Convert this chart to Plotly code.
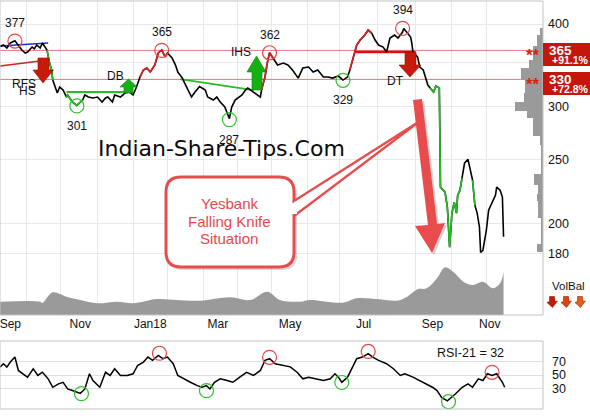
import numpy as np
import pandas as pd
import plotly.graph_objects as go

START = pd.Timestamp("2017-08-23")
SPAN_DAYS = 473.4

# ---------------- data ----------------
price_day = [0, 3, 6, 9, 13, 16, 19, 22, 24, 28,
             30, 32, 35, 37, 41, 43, 45, 46, 48, 50,
             52, 55, 58, 59, 63, 67, 72, 74, 77, 81,
             85, 89, 92, 94, 98, 100, 105, 109, 113, 116,
             119, 122, 125, 128, 131, 135, 138, 141, 144, 146,
             150, 153, 155, 159, 161, 164, 167, 170, 174, 179,
             181, 186, 189, 192, 196, 200, 202, 205, 208, 211,
             214, 216, 221, 224, 227, 228, 231, 233, 235, 238,
             242, 247, 251, 255, 260, 264, 269, 273, 277, 282,
             286, 290, 295, 299, 303, 305, 308, 311, 314, 318,
             321, 324, 327, 330, 334, 337, 340, 344, 347, 351,
             352, 355, 358, 359, 360, 364, 366, 369, 371, 373,
             375, 378, 380, 382, 383, 384, 386, 388, 390, 392,
             394, 396, 398, 399, 401, 403, 405, 408, 412, 414,
             416, 418, 419, 421, 424, 426, 429, 432, 433, 436,
             438, 439]
price_close = [370, 372, 368, 374.5, 377.5, 372, 365.5, 361.7, 363, 369.3,
               367, 372, 368, 374.5, 365.5, 350.6, 341, 329.2, 321.4, 314.7,
               321.4, 318, 310.4, 312.6, 305.1, 301.5, 307.2, 312.6, 310.4, 309.4,
               310.4, 305.1, 309.4, 310.4, 305.1, 312.6, 310.4, 314.7, 315.8, 312.6,
               321.4, 332.7, 341, 343.3, 338.6, 346.9, 361.7, 365.5, 356.8, 361.7,
               355.5, 346.9, 338.6, 331.5, 325.8, 318, 310.4, 315.8, 322, 318,
               310.4, 307.2, 310.4, 305.1, 299.8, 288, 299.8, 307.2, 310.4, 312.6,
               318, 320.3, 315.8, 312.6, 310.4, 318, 332.7, 349.3, 362, 355.5,
               346.9, 349.3, 346.9, 341, 331.5, 343.3, 344.5, 338.6, 341, 332.7,
               332.7, 331.5, 333.9, 329.2, 332.7, 341, 356.8, 371.9, 378.4, 385,
               391.7, 387.7, 378.4, 371.9, 369.3, 363, 381, 385, 381, 389,
               394, 387.7, 382.3, 374.5, 363, 356.8, 344.5, 341, 332.7, 323.6,
               320.3, 315.8, 322.5, 321.4, 320.3, 227, 224.6, 223.1, 211.8, 184.2,
               207.4, 215.4, 207.4, 220.8, 224.6, 234.3, 246.8, 250, 232.6, 213.2,
               207.4, 197.5, 181, 182.2, 195.4, 209.5, 214.7, 220.8, 227, 224.6,
               219.3, 191]

vol_day = [0, 35, 37, 46, 58, 70, 85, 102, 116, 137, 154, 174, 201, 218, 233, 244, 262,
           270, 299, 311, 331, 346, 355, 364, 372, 381, 388, 395, 404, 412, 421, 430, 436, 439]
vol_bal = [13.3, 13.3, 12, 22.7, 18.3, 15, 11.7, 13.3, 11.7, 16, 15, 14.3, 17.7, 15, 23.3, 15, 13.3,
           15, 12.3, 16.7, 15.7, 14.3, 18.3, 25.7, 26.7, 36.7, 47.7, 43.3, 33.3, 30, 33.3, 26.7, 31.7, 43.3]

rsi_day = [0, 3, 6, 9, 13, 16, 20, 24, 29, 33, 37, 42, 46, 51, 55, 59, 65, 70, 74, 78,
           81, 87, 92, 96, 100, 105, 111, 116, 120, 125, 129, 133, 138, 142, 146, 151, 155, 160, 166, 172,
           176, 180, 183, 187, 192, 198, 203, 209, 215, 221, 227, 231, 235, 240, 246, 253, 259, 264, 269, 275,
           282, 288, 292, 295, 298, 303, 307, 311, 316, 321, 325, 330, 337, 343, 349, 353, 360, 366, 371, 377,
           381, 385, 390, 392, 397, 403, 408, 412, 417, 421, 425, 429, 433, 438, 440]
rsi_val = [61.6, 66.6, 61.6, 69, 76.4, 56.7, 51.8, 46.8, 59.2, 49.3, 54.1, 44.4, 31.9, 37, 39.3, 29.5, 26, 23, 29.5, 51.8,
           41.9, 32, 54, 49.3, 59.2, 49.3, 49.3, 51.8, 64, 69, 76.4, 71.5, 78.9, 74, 76.4, 66.6, 49.3, 44.4, 39.3, 34.4,
           32, 34.4, 29.5, 39.3, 44.4, 41.9, 39.3, 46.8, 54, 49.3, 56.7, 71.5, 74, 66.6, 64, 62, 54, 44.4, 46.8, 44.4,
           41.9, 44.4, 51.8, 46.8, 39.3, 46.8, 61.6, 74, 76.4, 81.4, 76.4, 71.5, 66.6, 59.2, 49.3, 51.8, 46.8, 41.9, 37, 32,
           27, 17, 12, 14.7, 22, 32, 37, 32, 44.4, 41.9, 51.8, 49.3, 51.8, 39.3, 32]

vbp_lo = [385, 370, 353, 343, 329, 315, 305, 296, 289, 280, 271, 263, 238, 229, 222, 216, 204, 186, 181]
vbp_hi = [395, 385, 370, 353, 343, 329, 315, 305, 296, 289, 280, 271, 263, 238, 229, 222, 216, 204, 186]
vbp_vol = [26, 60, 103, 143, 216, 183, 190, 283, 163, 103, 103, 33, 16, 93, 53, 63, 53, 23, 63]

peak_day = [13, 141, 235, 351]
peak_val = [377, 365, 362, 394]
low_day = [67, 200, 299]
low_val = [301, 287, 329]
rsi_hi_day = [139, 235, 321, 429]
rsi_hi_val = [82, 76, 84.6, 54]
rsi_lo_day = [71, 180, 298, 391]
rsi_lo_val = [22.6, 27, 39, 10.7]

level_val = [365, 330]
level_pct = ["+91.1%", "+72.8%"]

tick_dates = ["2017-09-01", "2017-11-01", "2018-01-01", "2018-03-01",
              "2018-05-03", "2018-07-06", "2018-09-04", "2018-10-24"]
tick_text = ["Sep", "Nov", "Jan18", "Mar", "May", "Jul", "Sep", "Nov"]
grid_day = [23, 53, 85, 116, 146, 177, 207, 237, 268, 296, 329, 362, 394, 424]
price_ticks = [180, 200, 250, 300, 350, 400]
price_tick_text = ["180", "200", "250", "300", "", "400"]
rsi_ticks = [30, 50, 70]
rsi_now = 32

blue_day, blue_val = [0, 42], [370.6, 374.5]
rfs_day, rfs_val = [0, 42], [345.7, 353]
db_day, db_val = [58, 116], [315.8, 315.8]
ihs_day, ihs_val = [157, 221], [330.4, 318]
dt_day, dt_val = [310, 362], [363, 363]

# colour segments of the price line (index ranges)
segments = [(14, 17, "#22c022"), (22, 26, "#22c022"), (41, 49, "#e02020"), (75, 79, "#e02020"),
            (95, 101, "#e02020"), (120, 135, "#22c022"), (138, 139, "#22c022")]

# ---------------- helpers ----------------
def dates(days):
    return [START + pd.Timedelta(days=float(d)) for d in days]

X_RANGE = [START, START + pd.Timedelta(days=SPAN_DAYS)]
Y_LO, Y_HI = 145.6, 433.3
Y_RANGE = [np.log10(Y_LO), np.log10(Y_HI)]

def PX(x):
    return x / 543.0

def PY(y):
    return (409.0 - y) / 408.0

def poly(pts):
    return "M " + " L ".join(f"{PX(x):.5f},{PY(y):.5f}" for x, y in pts) + " Z"

def rrect(x0, y0, x1, y1, r):
    def p(x, y):
        return f"{PX(x):.5f},{PY(y):.5f}"
    return (f"M {p(x0 + r, y0)} L {p(x1 - r, y0)} Q {p(x1, y0)} {p(x1, y0 + r)} "
            f"L {p(x1, y1 - r)} Q {p(x1, y1)} {p(x1 - r, y1)} L {p(x0 + r, y1)} "
            f"Q {p(x0, y1)} {p(x0, y1 - r)} L {p(x0, y0 + r)} Q {p(x0, y0)} {p(x0 + r, y0)} Z")

FONT = "Liberation Sans, Arial, sans-serif"
BLACK = "#111111"
RED_LINE = "#e07a7a"
GREEN = "#22c022"
RED = "#e02020"

fig = go.Figure()

# volume balance area
fig.add_trace(go.Scatter(x=dates(vol_day), y=vol_bal, xaxis="x", yaxis="y2", mode="lines",
                         line=dict(color="#9a9a9a", width=0, shape="spline", smoothing=1.0),
                         fill="tozeroy", fillcolor="#9a9a9a", hoverinfo="skip"))

# volume by price
vbp_c = [(np.log10(a) + np.log10(b)) / 2 for a, b in zip(vbp_lo, vbp_hi)]
vbp_w = [np.log10(b) - np.log10(a) for a, b in zip(vbp_lo, vbp_hi)]
fig.add_trace(go.Bar(x=vbp_vol, y=vbp_c, width=vbp_w, orientation="h", xaxis="x3", yaxis="y3",
                     marker=dict(color="#9a9a9a", line=dict(width=0)), hoverinfo="skip"))

# horizontal levels
for lv in level_val:
    fig.add_trace(go.Scatter(x=X_RANGE, y=[lv, lv], xaxis="x", yaxis="y", mode="lines",
                             line=dict(color=RED_LINE, width=1), hoverinfo="skip"))

# pattern lines
for dd, vv, col, w in [(blue_day, blue_val, "#2030c8", 1.6), (rfs_day, rfs_val, "#d82020", 1.4),
                       (db_day, db_val, GREEN, 2), (ihs_day, ihs_val, GREEN, 1.8),
                       (dt_day, dt_val, "#d81010", 2.6)]:
    fig.add_trace(go.Scatter(x=dates(dd), y=vv, xaxis="x", yaxis="y", mode="lines",
                             line=dict(color=col, width=w), hoverinfo="skip"))

# price line
pd_dates = dates(price_day)
fig.add_trace(go.Scatter(x=pd_dates, y=price_close, xaxis="x", yaxis="y", mode="lines",
                         line=dict(color="#000000", width=1.6), hoverinfo="skip"))
for i0, i1, col in segments:
    fig.add_trace(go.Scatter(x=pd_dates[i0:i1 + 1], y=price_close[i0:i1 + 1], xaxis="x", yaxis="y",
                             mode="lines", line=dict(color=col, width=1.6), hoverinfo="skip"))

# peak / trough circles
fig.add_trace(go.Scatter(x=dates(peak_day), y=peak_val, xaxis="x", yaxis="y", mode="markers",
                         marker=dict(symbol="circle-open", size=14, color="#e04848", line=dict(width=1.2)),
                         hoverinfo="skip"))
fig.add_trace(go.Scatter(x=dates(low_day), y=low_val, xaxis="x", yaxis="y", mode="markers",
                         marker=dict(symbol="circle-open", size=14, color="#33c033", line=dict(width=1.2)),
                         hoverinfo="skip"))

# RSI
fig.add_trace(go.Scatter(x=dates(rsi_day), y=rsi_val, xaxis="x2", yaxis="y4", mode="lines",
                         line=dict(color="#000000", width=1.5), hoverinfo="skip"))
fig.add_trace(go.Scatter(x=dates(rsi_hi_day), y=rsi_hi_val, xaxis="x2", yaxis="y4", mode="markers",
                         marker=dict(symbol="circle-open", size=14, color="#e04848", line=dict(width=1.2)),
                         hoverinfo="skip"))
fig.add_trace(go.Scatter(x=dates(rsi_lo_day), y=rsi_lo_val, xaxis="x2", yaxis="y4", mode="markers",
                         marker=dict(symbol="circle-open", size=14, color="#33c033", line=dict(width=1.2)),
                         hoverinfo="skip"))

# ---------------- shapes ----------------
shapes = []
BORDER = "#c4c4c4"
shapes.append(dict(type="rect", xref="paper", yref="paper", x0=PX(0), x1=PX(543), y0=PY(315), y1=PY(1),
                   line=dict(color=BORDER, width=1)))
shapes.append(dict(type="rect", xref="paper", yref="paper", x0=PX(0), x1=PX(543), y0=PY(409), y1=PY(341),
                   line=dict(color=BORDER, width=1)))

ARROW_RED = "#c81a0a"
ARROW_GREEN = "#14b014"
shapes.append(dict(type="path", xref="paper", yref="paper", fillcolor=ARROW_RED, line=dict(color="#8a1000", width=0.6),
                   path=poly([(38, 58), (49, 58), (49, 70), (53.5, 70), (43, 83), (33, 70), (38, 70)])))
shapes.append(dict(type="path", xref="paper", yref="paper", fillcolor=ARROW_RED, line=dict(color="#8a1000", width=0.6),
                   path=poly([(405, 52), (416, 52), (416, 65), (421, 65), (410, 77), (399, 65), (405, 65)])))
shapes.append(dict(type="path", xref="paper", yref="paper", fillcolor=ARROW_GREEN, line=dict(color="#0a800a", width=0.6),
                   path=poly([(124, 93), (124, 87), (120, 87), (128.5, 79), (137, 87), (133, 87), (133, 93)])))
shapes.append(dict(type="path", xref="paper", yref="paper", fillcolor=ARROW_GREEN, line=dict(color="#0a800a", width=0.6),
                   path=poly([(252, 90), (252, 72), (247, 72), (256.5, 56), (266, 72), (262, 72), (262, 90)])))

# callout
CALL = "#e84c4c"
big_arrow = [(413, 100), (422, 99), (437, 224), (445, 223), (432, 253), (415, 226), (428, 225)]
shapes.append(dict(type="path", xref="paper", yref="paper", fillcolor="rgba(0,0,0,0.18)", line=dict(width=0),
                   path=poly([(x + 2, y + 2) for x, y in big_arrow])))
shapes.append(dict(type="path", xref="paper", yref="paper", fillcolor=CALL, line=dict(width=0),
                   path=poly(big_arrow)))
shapes.append(dict(type="path", xref="paper", yref="paper", fillcolor="rgba(0,0,0,0.15)", line=dict(width=0),
                   path=rrect(168, 180, 297, 270, 15)))
shapes.append(dict(type="path", xref="paper", yref="paper", fillcolor="white", line=dict(color=CALL, width=3),
                   path=rrect(166, 177, 294, 267, 15)))
shapes.append(dict(type="path", xref="paper", yref="paper", fillcolor="white", line=dict(color=CALL, width=2.2),
                   path=f"M {PX(294):.5f},{PY(201):.5f} L {PX(420):.5f},{PY(121):.5f} L {PX(294):.5f},{PY(216):.5f}"))
shapes.append(dict(type="rect", xref="paper", yref="paper", x0=PX(291.5), x1=PX(297), y0=PY(214), y1=PY(203),
                   fillcolor="white", line=dict(width=0)))

# right-hand level boxes
for lv, (y0, y1) in zip(level_val, [(43, 66), (72, 95)]):
    shapes.append(dict(type="rect", xref="paper", yref="paper", x0=PX(543), x1=PX(591), y0=PY(y1), y1=PY(y0),
                       fillcolor="#c4160a", line=dict(width=0)))

# VolBal icons
for cx, col in [(552, "#c41a00"), (566, "#e0420e"), (580, "#e0601a")]:
    cy = 302
    pts = [(cx - 2.5, cy - 5.5), (cx + 2.5, cy - 5.5), (cx + 3, cy - 0.5), (cx + 5.5, cy - 1), (cx + 0.5, cy + 5.5),
           (cx - 5, cy + 0.5), (cx - 2.5, cy - 0.5)]
    shapes.append(dict(type="path", xref="paper", yref="paper", fillcolor=col, line=dict(color="#7a1000", width=0.5),
                       path=poly(pts)))

# ---------------- annotations ----------------
anns = []

def ann(text, x, y, size=12, color=BLACK, family=FONT, xanchor="center", **kw):
    anns.append(dict(text=text, x=PX(x), y=PY(y), xref="paper", yref="paper", showarrow=False,
                     xanchor=xanchor, yanchor="middle", font=dict(size=size, color=color, family=family), **kw))

for dd, vv in zip(peak_day, peak_val):
    anns.append(dict(text=str(vv), x=START + pd.Timedelta(days=dd), y=np.log10(vv), xref="x", yref="y",
                     showarrow=False, yshift=18, font=dict(size=12, color=BLACK, family=FONT)))
for dd, vv in zip(low_day, low_val):
    anns.append(dict(text=str(vv), x=START + pd.Timedelta(days=dd), y=np.log10(vv), xref="x", yref="y",
                     showarrow=False, yshift=-20, font=dict(size=12, color=BLACK, family=FONT)))

ann("RFS", 24, 84)
ann("HS", 27.5, 91)
ann("DB", 115.5, 76)
ann("IHS", 241, 52)
ann("DT", 395.5, 81)
ann("Indian-Share-Tips.Com", 221.5, 148.5, size=22, family="DejaVu Sans, Verdana, sans-serif", color="#0a0a0a")
ann("Yesbank", 229, 203, size=15, color="#e8474a")
ann("Falling Knife", 229, 221, size=15, color="#e8474a")
ann("Situation", 229, 239, size=15, color="#e8474a")
ann(f"RSI-21 = {rsi_now}", 470.5, 353, size=12.5)
for lv, pct, yc in zip(level_val, level_pct, [50.5, 79.5]):
    ann(f"<b>{lv}</b>", 547, yc, size=13.5, color="white", xanchor="left")
    ann(f"<b>{pct}</b>", 550, yc + 9, size=10.5, color="white", xanchor="left")
    ann("<b>**</b>", 542, yc + 5, size=17, color="#dd2211", xanchor="right")
ann("VolBal", 550, 286, size=11.5, xanchor="left")

fig.update_layout(
    width=590, height=416,
    margin=dict(l=0, r=47, t=1, b=7),
    paper_bgcolor="white", plot_bgcolor="white", showlegend=False,
    font=dict(family=FONT, size=12, color=BLACK),
    bargap=0,
    xaxis=dict(domain=[0, 1], anchor="y", type="date", range=X_RANGE, tickmode="array",
               tickvals=tick_dates, ticktext=tick_text, showgrid=False, ticks="", zeroline=False,
               showline=False, tickfont=dict(size=12, color=BLACK), ticklabeloverflow="allow",
               minor=dict(tickmode="array", tickvals=dates(grid_day), showgrid=True,
                          gridcolor="#e8e8e8", gridwidth=1, ticks="")),
    yaxis=dict(domain=[94 / 408, 1], anchor="x", type="log", range=Y_RANGE, side="right",
               tickmode="array", tickvals=price_ticks, ticktext=price_tick_text,
               showgrid=True, gridcolor="#e8e8e8", ticks="", zeroline=False, showline=False,
               automargin=False, ticklabelstandoff=4, tickfont=dict(size=12.5, color=BLACK)),
    yaxis2=dict(overlaying="y", anchor="x", range=[0, 314], visible=False),
    xaxis3=dict(overlaying="x", anchor="y3", range=[5433, 0], visible=False),
    yaxis3=dict(overlaying="y", anchor="x3", range=Y_RANGE, visible=False),
    xaxis2=dict(domain=[0, 1], anchor="y4", type="date", range=X_RANGE, showticklabels=False,
                showgrid=False, ticks="", zeroline=False),
    yaxis4=dict(domain=[0, 68 / 408], anchor="x2", range=[0, 100], side="right", tickmode="array",
                tickvals=rsi_ticks, showgrid=True, gridcolor="#e0e0e0", ticks="", zeroline=False,
                automargin=False, ticklabelstandoff=8, tickfont=dict(size=12.5, color=BLACK)),
    shapes=shapes,
    annotations=anns,
)

fig.write_html("out.html", config={"displayModeBar": False},
               post_script="document.body.style.margin='0px';document.body.style.overflow='hidden';")
